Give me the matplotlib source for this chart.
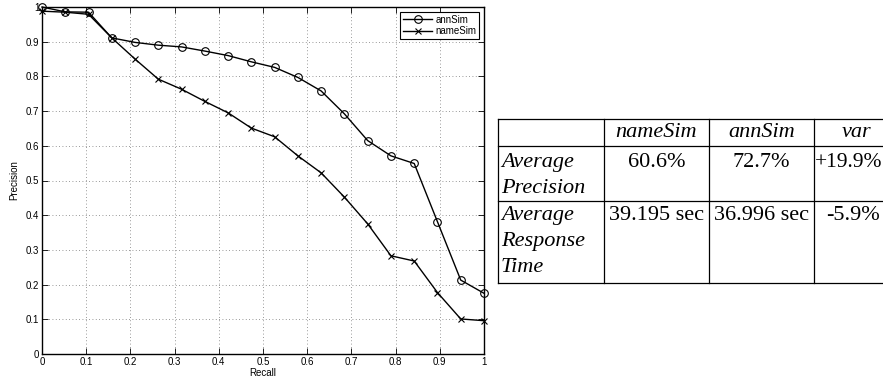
import matplotlib.pyplot as plt
import numpy as np

# data
recall = np.arange(20) / 19.0
ann_sim = [1.0, 0.986, 0.985, 0.911, 0.898, 0.890, 0.885, 0.873, 0.860, 0.842,
           0.826, 0.797, 0.758, 0.692, 0.615, 0.571, 0.549, 0.381, 0.213, 0.175]
name_sim = [0.988, 0.985, 0.979, 0.911, 0.850, 0.792, 0.763, 0.728, 0.695, 0.651,
            0.626, 0.571, 0.522, 0.452, 0.375, 0.283, 0.268, 0.177, 0.101, 0.096]

col_heads = ['nameSim', 'annSim', 'var']
row_heads = ['Average\nPrecision', 'Average\nResponse\nTime']
cells = [['60.6%', '72.7%', '+19.9%'],
         ['39.195 sec', '36.996 sec', '-5.9%']]

W, H = 883, 381
fig = plt.figure(figsize=(W / 100, H / 100), dpi=100)
plt.rcParams['font.family'] = ['Liberation Sans', 'DejaVu Sans']

# ---- plot
ax = fig.add_axes([42 / W, 1 - 354 / H, 442 / W, 347 / H])
ax.plot(recall, ann_sim, 'k-o', mfc='none', ms=5.5, lw=1.0, mew=0.8,
        label='annSim', clip_on=False, zorder=3)
ax.plot(recall, name_sim, 'k-x', ms=4, lw=1.0, mew=0.8,
        label='nameSim', clip_on=False, zorder=3)
ax.set_xlim(0, 1)
ax.set_ylim(0, 1)
ticks = np.arange(0, 1.01, 0.1)
labels = ['0'] + ['%.1f' % t for t in ticks[1:-1]] + ['1']
ax.set_xticks(ticks)
ax.set_xticklabels(labels)
ax.set_yticks(ticks)
ax.set_yticklabels(labels)
ax.tick_params(direction='in', top=True, right=True, labelsize=7,
               length=4, width=0.6, pad=2)
ax.grid(True, ls=(0, (1, 3)), color='#777777', lw=0.6)
for s in ax.spines.values():
    s.set_linewidth(1.0)
ax.set_xlabel('Recall', fontsize=7, labelpad=1)
ax.set_ylabel('Precision', fontsize=7, labelpad=5)
leg = ax.legend(loc='upper right', fontsize=7, fancybox=False,
                edgecolor='black', framealpha=1, handlelength=3,
                borderpad=0.3, labelspacing=0.15, handletextpad=0.3,
                borderaxespad=0.5)
leg.get_frame().set_linewidth(0.8)

# ---- table
tx0, tx1, ty0, ty1 = 498, 908, 119, 283
tb = fig.add_axes([tx0 / W, 1 - ty1 / H, (tx1 - tx0) / W, (ty1 - ty0) / H])
tb.set_xlim(0, tx1 - tx0)
tb.set_ylim(ty1 - ty0, 0)
tb.axis('off')
col_edges = [0, 106, 211, 316, 402]
row_edges = [0, 27, 82, 164]
for y in row_edges:
    tb.plot([0, 410], [y, y], color='black', lw=0.9, clip_on=False)
for x in col_edges[:-1]:
    tb.plot([x, x], [0, 164], color='black', lw=0.9, clip_on=False)

serif = ['Liberation Serif', 'DejaVu Serif']
fs = 16
line_h = 26
for j, h in enumerate(col_heads):
    cx = (col_edges[j + 1] + col_edges[j + 2]) / 2
    tb.text(cx, 18, h, ha='center', va='baseline', fontsize=fs,
            family=serif, style='italic')
base = [48, 101]
for i, rh in enumerate(row_heads):
    for k, line in enumerate(rh.split('\n')):
        tb.text(3, base[i] + k * line_h, line, ha='left', va='baseline',
                fontsize=fs, family=serif, style='italic')
    for j, v in enumerate(cells[i]):
        cx = (col_edges[j + 1] + col_edges[j + 2]) / 2
        if j == 2 and i == 0:
            tb.text(col_edges[j + 1] + 1, base[i], v, ha='left',
                    va='baseline', fontsize=fs - 0.5, family=serif)
        else:
            tb.text(cx - (4 if j == 2 else 0), base[i], v, ha='center',
                    va='baseline', fontsize=fs, family=serif)

fig.savefig('out.png', dpi=100)
